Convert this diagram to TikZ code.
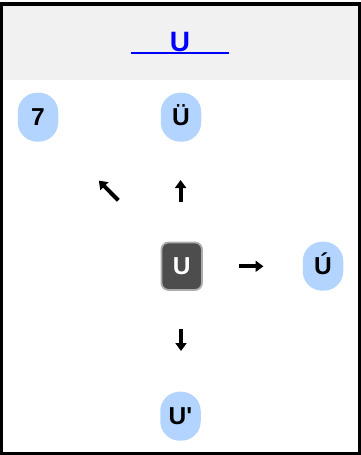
\documentclass[tikz,border=0pt]{standalone}
\usepackage{fontspec}
\setmainfont{Liberation Sans}
\usetikzlibrary{arrows.meta}
\definecolor{keyblue}{HTML}{B3D4FF}
\definecolor{keydark}{HTML}{4D4D4D}
\definecolor{keyedge}{HTML}{ADADAD}
\definecolor{headgray}{HTML}{F1F1F1}
\definecolor{linkblue}{HTML}{0000FF}
\begin{document}
\begin{tikzpicture}[x=1pt,y=-1pt,
  keybox/.style={fill=keyblue, rounded corners=19.5pt, minimum width=40.5pt,
    minimum height=49pt, inner sep=0pt, text height=16.8pt, text depth=0pt,
    font=\bfseries\fontsize{24.5}{24.5}\selectfont},
  curkey/.style={fill=keydark, draw=keyedge, line width=1.8pt, rounded corners=7pt,
    minimum width=40.5pt, minimum height=47.5pt, inner sep=0pt, text height=16.8pt,
    text depth=0pt, text=white, font=\bfseries\fontsize{24.5}{24.5}\selectfont},
  dirarrow/.style={line width=4pt, -{Triangle[width=11pt,length=8pt]}},
]
\useasboundingbox (0,0) rectangle (361,455);
\fill[white] (0,0) rectangle (361,455);
\fill[headgray] (3.4,5.6) rectangle (357.6,80);
\draw[line width=3.4pt] (1.7,3.9) rectangle (359.3,453.6);
% title
\node[text=linkblue, inner sep=0pt, text height=19.3pt, text depth=0pt,
  font=\bfseries\fontsize{28}{28}\selectfont] (title) at (180,42.3) {U};
\coordinate (ulA) at (131,53.3);
\coordinate (ulB) at (229,53.3);
\draw[linkblue, line width=2pt] (ulA) -- (ulB);
% keys
\node[keybox] (k7) at (38,117.2) {7};
\node[keybox] (kUe) at (181,117.2) {Ü};
\node[curkey] (kU) at (181.7,266.2) {U};
\node[keybox] (kUa) at (323,266.2) {Ú};
\node[keybox] (kUp) at (180.5,416.2) {U\textquotesingle};
% arrows
\coordinate (upS) at (180.6,202);
\coordinate (upE) at (180.6,180);
\coordinate (dgS) at (118.3,200.3);
\coordinate (dgE) at (98.8,180.6);
\coordinate (rtS) at (239,266.3);
\coordinate (rtE) at (263.5,266.3);
\coordinate (dnS) at (181,329);
\coordinate (dnE) at (181,351);
\draw[dirarrow] (upS) -- (upE);
\draw[dirarrow] (dgS) -- (dgE);
\draw[dirarrow] (rtS) -- (rtE);
\draw[dirarrow] (dnS) -- (dnE);
\end{tikzpicture}
\end{document}
